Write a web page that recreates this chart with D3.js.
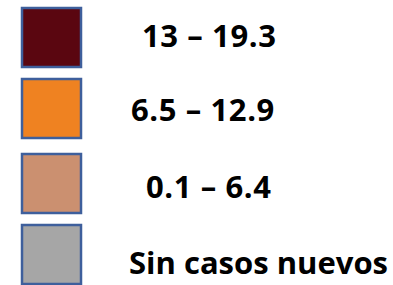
<!DOCTYPE html>
<html>
<head>
<meta charset="utf-8">
<script src="https://cdn.jsdelivr.net/npm/d3@7/dist/d3.min.js"></script>
<style>
  html, body { margin: 0; padding: 0; background: #fff; }
  svg { display: block; }
</style>
</head>
<body>
<div id="chart"></div>
<script>
// Legend classes
const CATEGORIES = ["13 – 19.3", "6.5 – 12.9", "0.1 – 6.4", "Sin casos nuevos"];
const COLORS = ["#5a0610", "#ef8221", "#cb9070", "#a6a6a6"];

const W = 393, H = 285;
// layout of the original slide (not data)
const BOX_TOPS = [7, 78, 153, 224];
const LABEL_X = [142, 131, 146, 129];
const LABEL_BASE = [47, 121, 198, 274];
const BOX = 60;

const svg = d3.select("#chart").append("svg")
  .attr("width", W).attr("height", H);

const y = d3.scaleOrdinal().domain(CATEGORIES).range(BOX_TOPS);
const color = d3.scaleOrdinal().domain(CATEGORIES).range(COLORS);

const rows = svg.selectAll("g.row")
  .data(CATEGORIES)
  .join("g")
  .attr("class", "row");

rows.append("rect")
  .attr("x", 22).attr("y", d => y(d) + 1)
  .attr("width", BOX - 1).attr("height", BOX - 1)
  .attr("fill", d => color(d))
  .attr("stroke", "#3e5f9c")
  .attr("stroke-width", 2.5);

rows.append("text")
  .attr("x", (d, i) => LABEL_X[i])
  .attr("y", (d, i) => LABEL_BASE[i])
  .attr("font-family", "'Open Sans', sans-serif")
  .attr("font-weight", 700)
  .attr("font-size", 31)
  .attr("letter-spacing", (d, i) => i < 3 ? 0.6 : 0)
  .attr("fill", "#000")
  .text(d => d);
</script>
</body>
</html>
